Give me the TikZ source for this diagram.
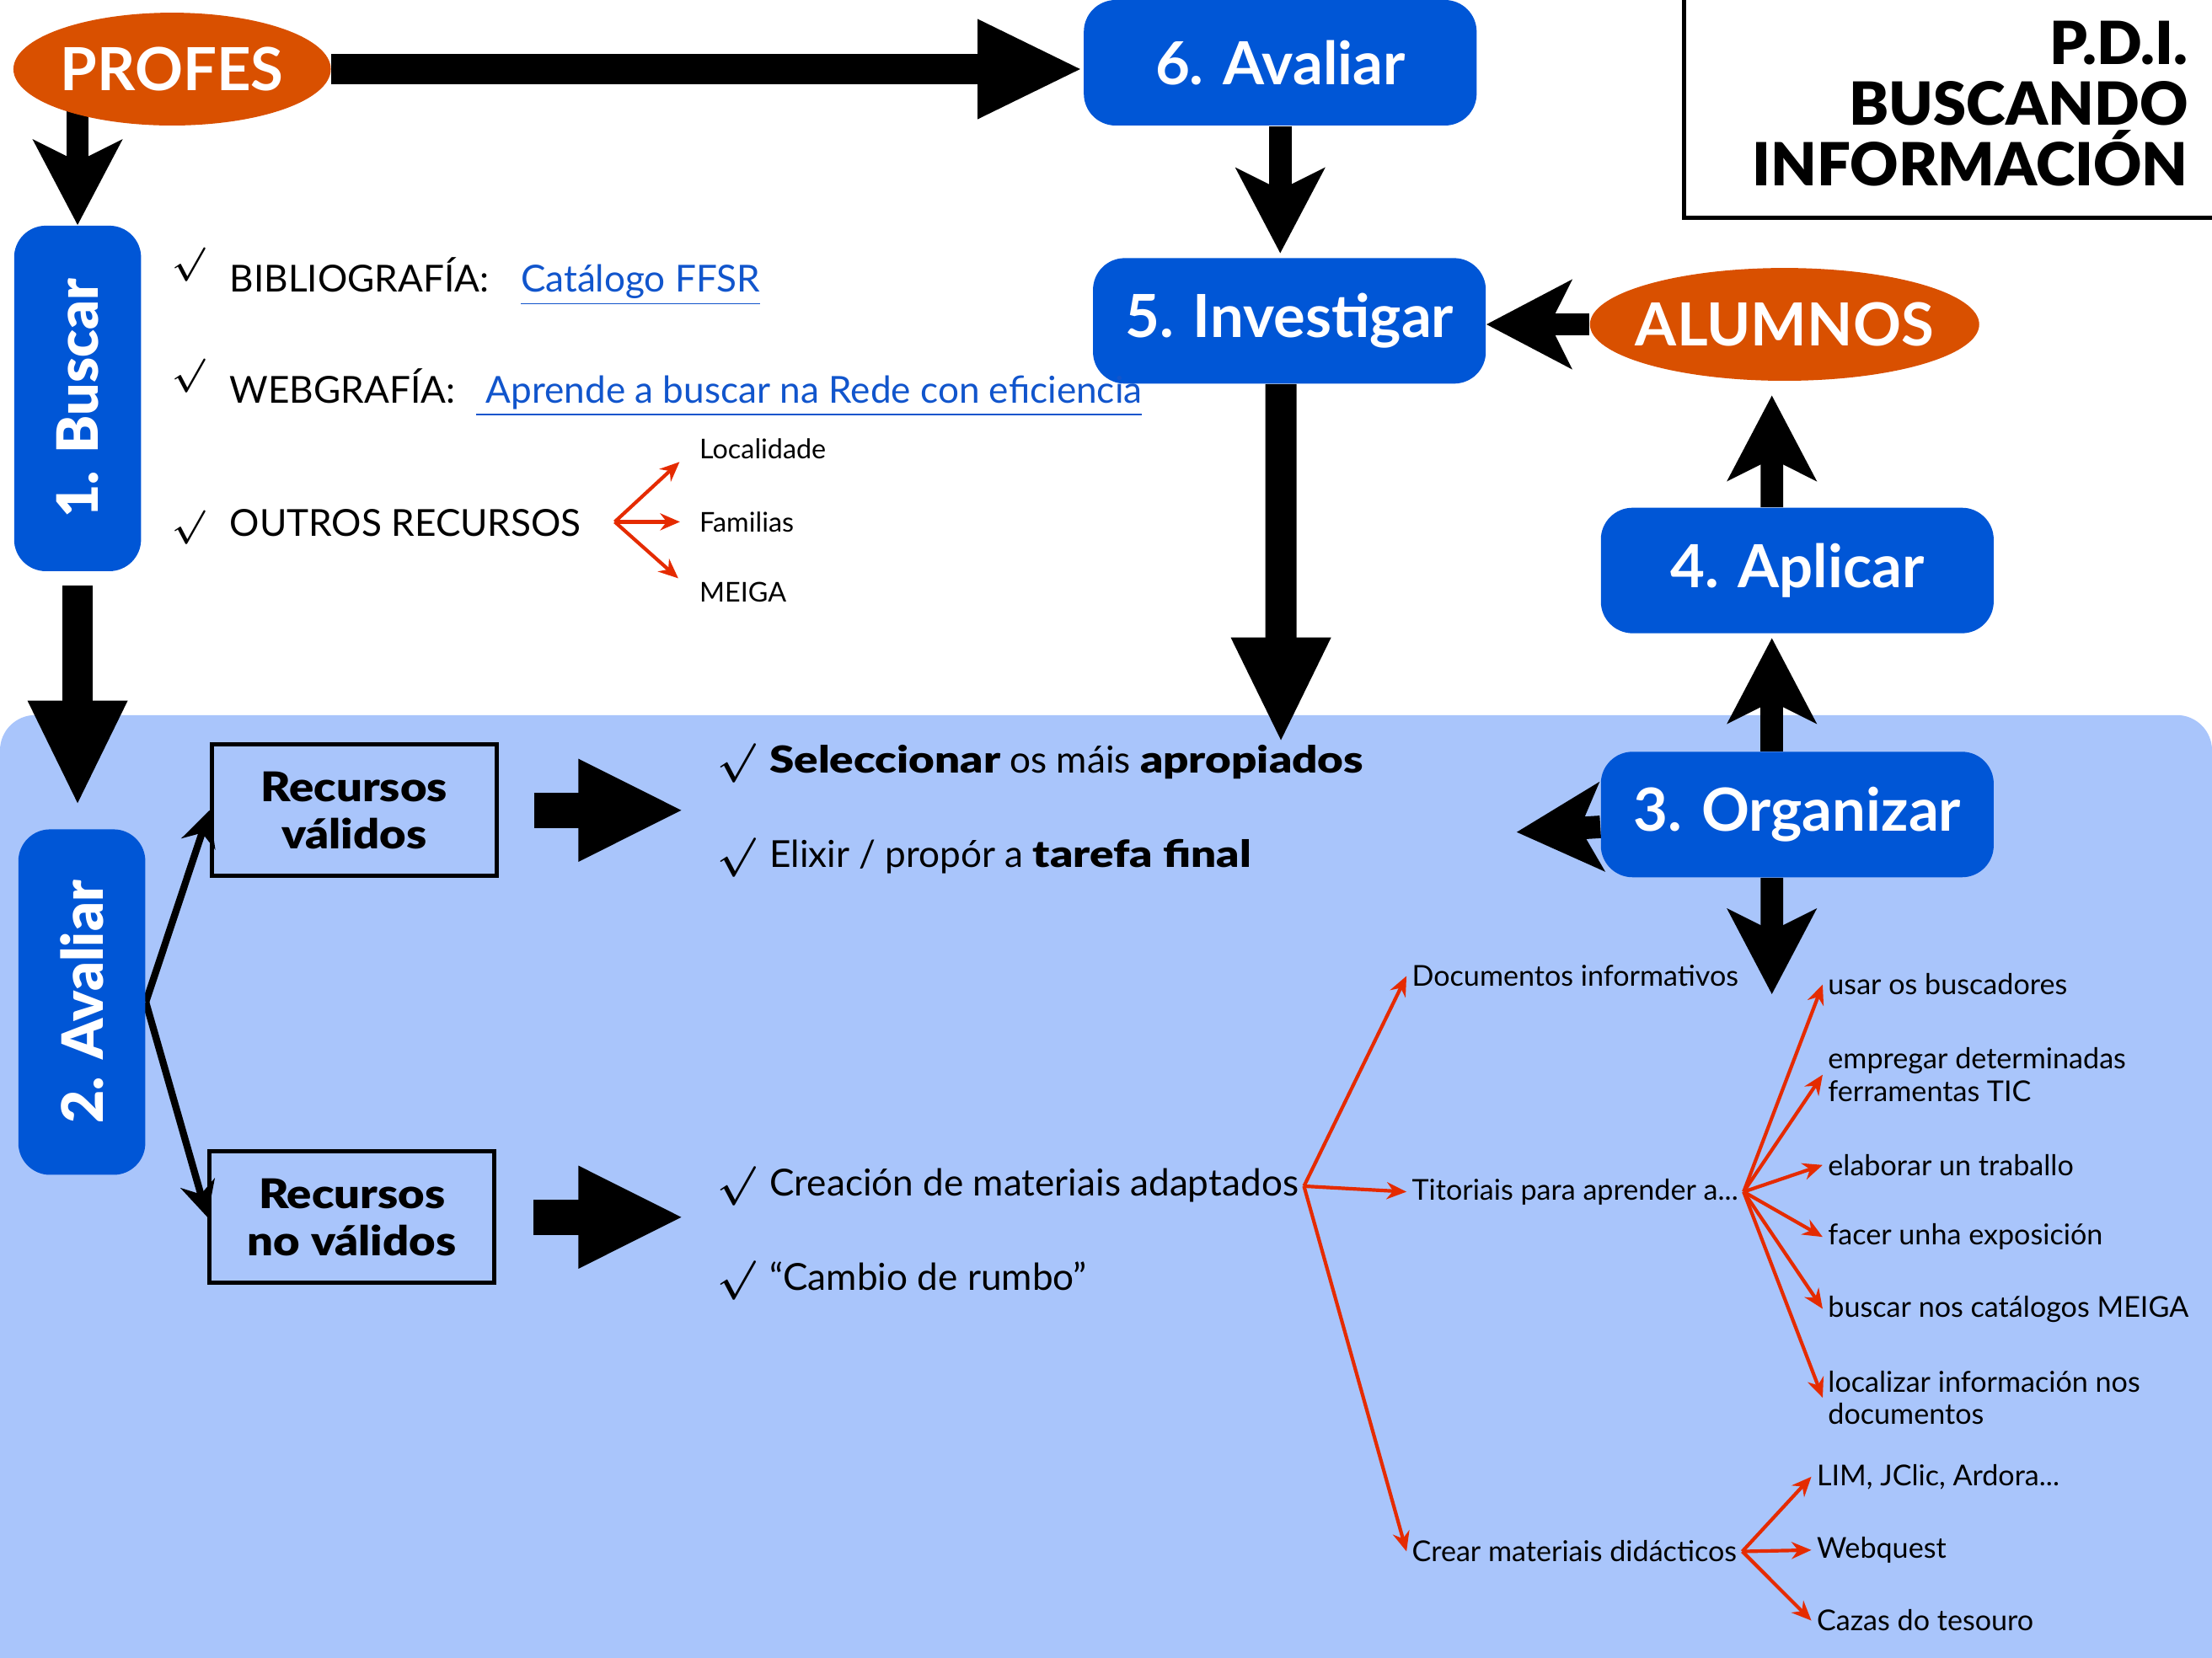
\documentclass[tikz,border=0pt]{standalone}
\usepackage{amsmath}
\usepackage{fontspec}
\setmainfont{Lato}
\newfontfamily\negra{Lato Black}
\newfontfamily\negraancha{Lato Black}[FakeStretch=1.2]
\newfontfamily\negrarecurso{Lato Black}[FakeStretch=1.12]
\usepackage{xcolor}
\usepackage{tikz}
\usetikzlibrary{arrows.meta,backgrounds,positioning,shapes.geometric}
\definecolor{pasoazul}{HTML}{0056D6}
\definecolor{laranxa}{HTML}{D95000}
\definecolor{fondoazul}{HTML}{A9C5FB}
\definecolor{vermello}{HTML}{E52B00}
\definecolor{ligazon}{HTML}{1155CC}
\tikzset{
	thick,
	>=latex,
}
\newcommand{\ligazon}[1]{\textcolor{ligazon}{\underline{#1}}}
\newcommand{\visto}[1]{\scalebox{#1}{$\boldsymbol{\surd}$}}

\begin{document}
\begin{tikzpicture}[x=0.02cm,y=-0.02cm]
    \tikzset{paso/.style={fill=pasoazul, text=white, rounded corners=0.45cm, minimum width=5.57cm, minimum height=1.78cm,
        font=\fontsize{24}{28}\selectfont\bfseries},
      pasov/.style={paso, rotate=90, minimum width=4.9cm, minimum height=1.8cm, font=\fontsize{23}{28}\selectfont\negra},
      actor/.style={ellipse, fill=laranxa, text=white, minimum width=4.5cm, minimum height=1.6cm, inner xsep=-0.6cm, inner ysep=0pt,
        font=\fontsize{24}{28}\selectfont\bfseries},
      recurso/.style={draw, line width=0.06cm, align=center, minimum width=4.04cm, minimum height=1.86cm,
        font=\fontsize{16.5}{19}\selectfont\negrarecurso},
      titulo/.style={draw, line width=0.06cm, align=right, text width=6.5cm, inner xsep=0.65cm, minimum height=3.24cm,
        font=\fontsize{24}{24.5}\selectfont\negra},
      texto/.style={anchor=west, inner sep=2pt, font=\fontsize{15}{18}\selectfont},
      pequeno/.style={anchor=west, inner sep=2pt, font=\fontsize{11}{13}\selectfont},
      rama/.style={anchor=west, inner sep=2pt, align=left, font=\fontsize{11.6}{13.2}\selectfont},
      frecha/.style={line width=0.32cm, -{Stealth[length=1.2cm,width=1.24cm,inset=0.3cm]}},
      frechagrosa/.style={line width=0.44cm, -{Triangle[length=1.5cm,width=1.3cm]}},
      bloque/.style={line width=0.5cm, -{Triangle[length=1.5cm,width=1.34cm]}},
      fina/.style={line width=0.1cm, -{Stealth[length=0.5cm,width=0.5cm]}},
      vermella/.style={draw=vermello, line width=0.05cm, -{Stealth[length=0.28cm,width=0.24cm]}},
    }
    \useasboundingbox (0,0) rectangle (1568,1175);

    \node[actor] at (122,49) (profes) {PROFES};
    \node[actor, minimum width=5.52cm] at (1265,230) (alumnos) {ALUMNOS};
    \node[paso] at (907.5,44.5) (avaliar6) {6. Avaliar};
    \node[paso] at (914,227.5) (investigar) {5. Investigar};
    \node[paso] at (1274,404.5) (aplicar) {4. Aplicar};
    \node[paso] at (1274,577.5) (organizar) {3. Organizar};
    \node[pasov] at (55,282.5) (buscar) {1. Buscar};
    \node[pasov] at (58,710.5) (avaliar2) {2. Avaliar};
    \node[titulo, anchor=south west] at (1192,156) (titulo) {P.D.I.\\BUSCANDO\\INFORMACIÓN};

    \node[recurso] at (251,574.5) (validos) {Recursos\\válidos};
    \node[recurso] at (249.5,863) (novalidos) {Recursos\\no válidos};

    % buscar
    \node[texto, anchor=base west] at (118,207) (biblio) {\raisebox{0.5em}{\visto{0.95}}\hspace{0.36cm}BIBLIOGRAFÍA:\hspace{0.45cm}\ligazon{Catálogo FFSR}};
    \node[texto, anchor=base west] at (118,286) (webgrafia) {\raisebox{0.5em}{\visto{0.95}}\hspace{0.36cm}WEBGRAFÍA:\hspace{0.3cm}\ligazon{ Aprende a buscar na Rede con eficiencia}};
    \node[texto, anchor=base west] at (118,380) (outros) {\visto{0.95}\hspace{0.36cm}OUTROS RECURSOS};
    \node[pequeno] at (492,318) (localidade) {Localidade};
    \node[pequeno] at (492,370) (familias) {Familias};
    \node[pequeno] at (492,420) (meiga) {MEIGA};

    % avaliar
    \node[texto] at (505,541) (seleccionar) {\visto{1.1}\hspace{0.2cm}{\negraancha Seleccionar} os máis {\negraancha apropiados}};
    \node[texto] at (505,608) (elixir) {\visto{1.1}\hspace{0.2cm}Elixir / propór a {\negraancha tarefa final}};
    \node[texto] at (505,841) (creacion) {\visto{1.1}\hspace{0.2cm}Creación de materiais adaptados};
    \node[texto] at (505,908) (cambio) {\visto{1.1}\hspace{0.2cm}“Cambio de rumbo”};

    \node[rama] at (997,692) (documentos) {Documentos informativos};
    \node[rama] at (997,845) (titoriais) {Titoriais para aprender a...};
    \node[rama] at (997,1100) (crear) {Crear materiais didácticos};
    \node[rama] at (1292,698) (usar) {usar os buscadores};
    \node[rama] at (1292,762) (empregar) {empregar determinadas\\ferramentas TIC};
    \node[rama] at (1292,826) (elaborar) {elaborar un traballo};
    \node[rama] at (1292,877) (facer) {facer unha exposición};
    \node[rama] at (1292,928) (catalogos) {buscar nos catálogos MEIGA};
    \node[rama] at (1292,991) (localizar) {localizar información nos\\documentos};
    \node[rama] at (1284,1047) (lim) {LIM, JClic, Ardora...};
    \node[rama] at (1284,1099) (webquest) {Webquest};
    \node[rama] at (1284,1149) (cazas) {Cazas do tesouro};

    \coordinate (investigarfin) at (908,527);
    \coordinate (organizarfin) at (1075,590);
    \coordinate (organizarbaixo) at (1256,705);

    \begin{scope}[on background layer]
    \fill[fondoazul, rounded corners=0.5cm] (0,1200) -- (0,507) -- (1568,507) -- (1568,1200) -- cycle;

    \draw[frechagrosa] (profes) -- (profes -| avaliar6.west);
    \draw[frecha] (profes.center -| buscar.east) -- (buscar.east);
    \draw[frechagrosa, shorten <=0.2cm, shorten >=0.32cm] (buscar.west) -- (buscar.west |- avaliar2.east);
    \draw[frecha, shorten >=0.06cm] (avaliar6.south) -- (avaliar6.south |- investigar.north);
    \draw[frecha] (alumnos) -- (alumnos.west -| investigar.east);
    \draw[frechagrosa] ([xshift=-0.12cm]investigar.south) -- (investigarfin);
    \draw[frecha, shorten >=0.2cm] ([xshift=-0.36cm]aplicar.north) -- ([xshift=-0.18cm]alumnos.south);
    \draw[frecha, shorten >=0.06cm] ([xshift=-0.36cm]organizar.north) -- ([xshift=-0.36cm]aplicar.south);
    \draw[frecha] (organizar) -- (organizarfin);
    \draw[frecha] ([xshift=-0.36cm]organizar.south) -- (organizarbaixo);

    \draw[fina] (avaliar2.south) -- (validos.west);
    \draw[fina] (avaliar2.south) -- (novalidos.west);
    \draw[bloque, shorten <=0.5cm, shorten >=0.4cm] (validos.east) -- (validos.east -| seleccionar.west);
    \draw[bloque, shorten <=0.52cm, shorten >=0.4cm] (novalidos.east) -- (novalidos.east -| creacion.west);
    \end{scope}

    \draw[vermella, shorten >=0.28cm] ([xshift=0.4cm]outros.east |- familias) -- (localidade.west);
    \draw[vermella, shorten >=0.2cm] ([xshift=0.4cm]outros.east |- familias) -- (familias.west);
    \draw[vermella, shorten >=0.3cm] ([xshift=0.4cm]outros.east |- familias) -- (meiga.west);

    \draw[vermella] (creacion.east) -- (documentos.west);
    \draw[vermella] (creacion.east) -- (titoriais.west);
    \draw[vermella] (creacion.east) -- (crear.west);

    \draw[vermella] (titoriais.east) -- (usar.west);
    \draw[vermella] (titoriais.east) -- (empregar.west);
    \draw[vermella] (titoriais.east) -- (elaborar.west);
    \draw[vermella] (titoriais.east) -- (facer.west);
    \draw[vermella] (titoriais.east) -- (catalogos.west);
    \draw[vermella] (titoriais.east) -- (localizar.west);

    \draw[vermella] (crear.east) -- (lim.west);
    \draw[vermella] (crear.east) -- (webquest.west);
    \draw[vermella] (crear.east) -- (cazas.west);
  \end{tikzpicture}
\end{document}
